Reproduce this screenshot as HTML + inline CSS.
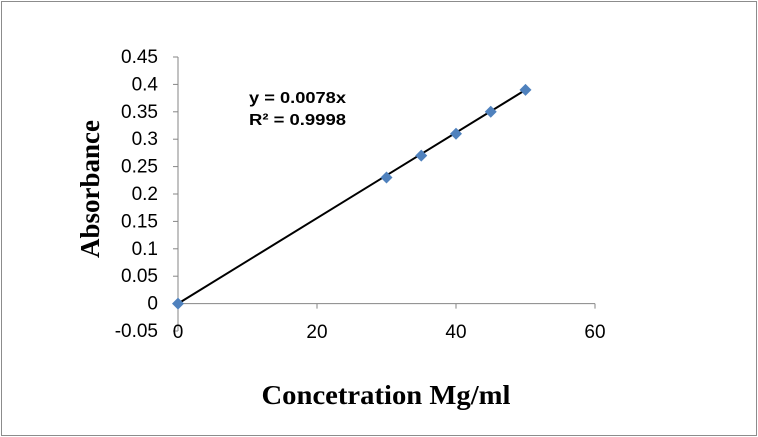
<!DOCTYPE html>
<html><head><meta charset="utf-8"><style>
body{margin:0;background:#fff}
svg{display:block}
</style></head><body>
<svg id="c" width="758" height="437" xmlns="http://www.w3.org/2000/svg">
<rect x="1.5" y="1.5" width="755" height="434" fill="#fff" stroke="#8c8c8c"/>
<g id="g"></g>
<text x="249" y="103" font-family="Liberation Sans, sans-serif" font-weight="bold" font-size="16" textLength="97" lengthAdjust="spacingAndGlyphs">y = 0.0078x</text>
<text x="249" y="125" font-family="Liberation Sans, sans-serif" font-weight="bold" font-size="16" textLength="97" lengthAdjust="spacingAndGlyphs">R² = 0.9998</text>
<text x="99" y="189" transform="rotate(-90 99 189)" text-anchor="middle" font-family="Liberation Serif, serif" font-weight="bold" font-size="27" textLength="138" lengthAdjust="spacingAndGlyphs">Absorbance</text>
<text x="386" y="404" text-anchor="middle" font-family="Liberation Serif, serif" font-weight="bold" font-size="27" textLength="249" lengthAdjust="spacingAndGlyphs">Concetration Mg/ml</text>
</svg>
<script>
const xVals=[0,30,35,40,45,50];
const yVals=[0,0.23,0.27,0.31,0.35,0.39];
const yTicks=[-0.05,0,0.05,0.1,0.15,0.2,0.25,0.3,0.35,0.4,0.45];
const xTicks=[0,20,40,60];
const slope=0.0078;
const X=v=>178+v*(417/60);
const Y=v=>303.6-v*(27.4/0.05);
const g=document.getElementById('g');
const NS='http://www.w3.org/2000/svg';
function mk(t,a){const e=document.createElementNS(NS,t);for(const k in a)e.setAttribute(k,a[k]);g.appendChild(e);return e;}
let e;
e=mk('line',{x1:X(0),x2:X(0),y1:Y(0.45),y2:Y(-0.05),stroke:'#868686'});


e=mk('line',{x1:X(0),x2:X(60),y1:Y(0),y2:Y(0),stroke:'#868686'});


yTicks.forEach(t=>{
 e=mk('line',{x1:X(0)-5,x2:X(0),y1:Y(t),y2:Y(t),stroke:'#868686'});
 
 
 e=mk('text',{x:158,y:Y(t)+6,'text-anchor':'end','font-family':'Liberation Sans, sans-serif','font-size':'19'});
 e.textContent=(Math.round(t*100)/100).toString();
 
 
});
xTicks.forEach(t=>{
 e=mk('line',{x1:X(t),x2:X(t),y1:Y(0),y2:Y(0)+5,stroke:'#868686'});
 
 
 e=mk('text',{x:X(t),y:338,'text-anchor':'middle','font-family':'Liberation Sans, sans-serif','font-size':'19'});
 e.textContent=t;
 
 
});
e=mk('line',{x1:X(0),y1:Y(0),x2:X(50),y2:Y(slope*50),stroke:'#000','stroke-width':2});


xVals.forEach((x,i)=>{
 const cx=X(x),cy=Y(yVals[i]);
 e=mk('path',{d:`M${cx} ${cy-6}L${cx+6} ${cy}L${cx} ${cy+6}L${cx-6} ${cy}Z`,fill:'#4f81bd'});
 
 
});
</script>
</body></html>
